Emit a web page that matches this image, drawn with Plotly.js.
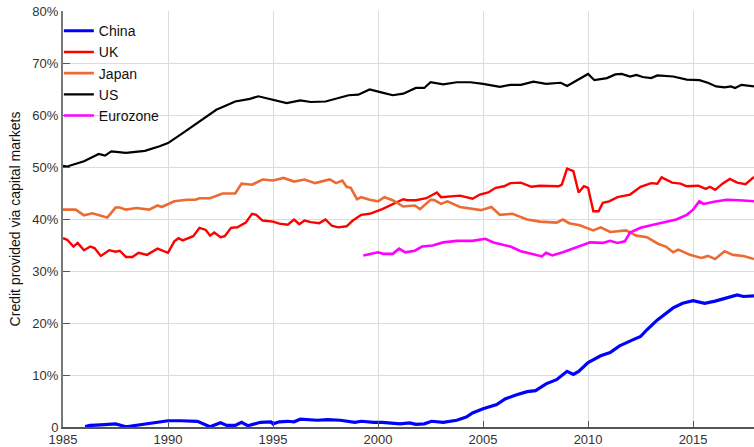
<!DOCTYPE html>
<html>
<head>
<meta charset="utf-8">
<script src="https://cdn.plot.ly/plotly-3.0.1.min.js"></script>
<style>html,body{margin:0;padding:0;background:#fff;}#chart{width:754px;height:447px;}</style>
</head>
<body>
<div id="chart"></div>
<script>
// Decimal years and values (%)
const chinaX = [1986.05,1986.3,1986.8,1987.5,1988.0,1988.7,1989.5,1990.0,1990.6,1991.4,1992.0,1992.5,1992.8,1993.2,1993.5,1993.8,1994.4,1994.9,1995.0,1995.3,1995.7,1996.0,1996.3,1997.1,1997.6,1998.2,1998.9,1999.2,1999.8,2000.2,2001.05,2001.5,2001.8,2002.2,2002.55,2003.1,2003.75,2004.2,2004.5,2005.0,2005.65,2006.05,2006.6,2007.1,2007.5,2008.0,2008.5,2009.0,2009.3,2009.55,2010.0,2010.6,2011.05,2011.5,2012.1,2012.5,2012.8,2013.3,2014.05,2014.5,2015.0,2015.55,2016.05,2016.6,2017.1,2017.4,2017.9];
const chinaY = [0.1,0.3,0.4,0.6,0.05,0.4,0.8,1.2,1.2,1.1,0.05,0.8,0.3,0.3,0.9,0.25,0.9,1.0,0.6,1.0,1.1,1.0,1.5,1.3,1.4,1.3,0.9,1.1,0.9,0.9,0.6,0.8,0.5,0.6,1.1,0.9,1.3,1.9,2.7,3.5,4.3,5.4,6.2,6.8,7.0,8.3,9.1,10.7,10.1,10.7,12.4,13.7,14.3,15.6,16.7,17.4,18.7,20.6,22.9,23.8,24.3,23.8,24.2,24.8,25.4,25.1,25.2];

const ukX = [1985.0,1985.2,1985.5,1985.7,1986.0,1986.3,1986.5,1986.8,1987.2,1987.5,1987.7,1988.0,1988.3,1988.6,1989.0,1989.5,1990.0,1990.3,1990.5,1990.7,1991.2,1991.5,1991.8,1992.0,1992.2,1992.5,1992.7,1993.0,1993.3,1993.7,1994.0,1994.2,1994.5,1995.0,1995.3,1995.7,1996.0,1996.25,1996.5,1996.8,1997.2,1997.5,1997.8,1998.1,1998.5,1998.8,1999.2,1999.6,2000.2,2000.7,2001.2,2001.4,2001.8,2002.3,2002.8,2003.0,2003.5,2003.9,2004.5,2004.85,2005.25,2005.6,2006.0,2006.3,2006.8,2007.3,2007.7,2008.1,2008.6,2008.75,2009.0,2009.3,2009.55,2009.8,2010.0,2010.25,2010.5,2010.7,2011.0,2011.4,2012.0,2012.5,2013.0,2013.3,2013.5,2014.0,2014.4,2014.7,2015.25,2015.6,2015.8,2016.05,2016.4,2016.75,2017.1,2017.5,2017.9];
const ukY = [36.3,36.0,34.7,35.4,34.0,34.7,34.4,32.9,34.0,33.7,33.9,32.7,32.7,33.5,33.1,34.3,33.5,35.7,36.3,35.9,36.7,38.3,37.9,36.8,37.4,36.5,36.7,38.3,38.4,39.3,41.0,40.8,39.7,39.5,39.1,38.9,39.9,39.0,39.7,39.4,39.2,39.9,38.7,38.4,38.6,39.7,40.8,41.0,41.9,42.9,43.8,43.6,43.6,44.0,45.1,44.2,44.3,44.5,43.9,44.7,45.1,46.0,46.3,46.9,47.0,46.2,46.4,46.3,46.3,46.6,49.7,49.2,45.1,46.3,46.0,41.5,41.5,43.1,43.4,44.2,44.7,46.2,46.9,46.8,48.0,47.0,46.8,46.3,46.4,45.8,46.2,45.6,46.8,47.7,47.0,46.7,48.1];

const japanX = [1985.0,1985.25,1985.6,1986.0,1986.4,1987.1,1987.2,1987.5,1987.7,1988.0,1988.5,1989.1,1989.5,1989.7,1990.3,1990.9,1991.3,1991.5,1992.0,1992.6,1993.2,1993.5,1994.0,1994.5,1995.0,1995.5,1996.0,1996.5,1997.0,1997.7,1998.0,1998.3,1998.5,1998.7,1999.0,1999.2,1999.6,2000.0,2000.3,2000.7,2001.2,2001.75,2002.0,2002.5,2002.7,2003.0,2003.3,2003.9,2004.9,2005.4,2005.8,2006.4,2007.1,2007.7,2008.5,2008.8,2009.1,2009.6,2010.25,2010.6,2011.05,2011.8,2012.3,2012.8,2013.35,2013.7,2014.05,2014.3,2014.85,2015.4,2015.7,2016.05,2016.5,2016.9,2017.4,2017.9];
const japanY = [41.8,41.8,41.8,40.7,41.1,40.3,40.7,42.2,42.2,41.8,42.1,41.8,42.6,42.3,43.4,43.7,43.7,44.0,44.0,44.9,44.9,46.8,46.6,47.6,47.4,47.9,47.2,47.6,46.9,47.6,46.9,47.4,46.2,46.0,43.8,44.2,43.7,43.4,44.2,43.6,42.4,42.6,41.9,43.7,43.6,42.9,43.4,42.3,41.7,42.3,40.8,41.0,39.9,39.5,39.3,39.9,39.2,38.8,37.8,38.4,37.5,37.8,36.8,36.5,35.2,34.7,33.6,34.1,33.1,32.5,32.9,32.3,33.8,33.1,32.9,32.3];

const usX = [1985.0,1985.2,1986.0,1986.7,1987.0,1987.3,1988.0,1988.9,1989.6,1990.0,1990.7,1991.5,1992.3,1993.2,1993.9,1994.3,1994.9,1995.65,1996.3,1996.8,1997.5,1997.95,1998.6,1999.06,1999.6,2000.2,2000.7,2001.2,2001.8,2002.2,2002.5,2003.1,2003.75,2004.4,2005.0,2005.8,2006.3,2006.8,2007.4,2008.0,2008.7,2009.0,2009.5,2010.0,2010.3,2010.9,2011.3,2011.6,2012.0,2012.3,2012.6,2013.0,2013.3,2014.05,2014.7,2015.3,2015.7,2016.1,2016.5,2016.8,2017.0,2017.3,2017.9];
const usY = [50.2,50.1,51.1,52.5,52.2,53.0,52.7,53.1,54.0,54.6,56.5,58.8,61.0,62.6,63.1,63.6,63.0,62.3,62.8,62.5,62.6,63.1,63.8,63.9,64.9,64.3,63.8,64.1,65.2,65.2,66.3,65.9,66.3,66.3,66.0,65.4,65.8,65.8,66.4,66.0,66.2,65.6,66.8,67.9,66.7,67.1,67.8,67.9,67.4,67.7,67.3,67.1,67.6,67.4,66.8,66.7,66.2,65.5,65.3,65.5,65.2,65.8,65.5];

const euroX = [1999.3,2000.0,2000.25,2000.7,2001.0,2001.3,2001.75,2002.1,2002.6,2003.1,2003.75,2004.5,2005.1,2005.5,2006.3,2006.8,2007.3,2007.8,2008.0,2008.3,2008.8,2009.6,2010.1,2010.7,2011.05,2011.4,2011.75,2012.0,2012.5,2013.1,2013.7,2014.2,2014.7,2015.0,2015.3,2015.5,2016.0,2016.6,2017.2,2017.9];
const euroY = [33.0,33.6,33.3,33.3,34.3,33.6,33.9,34.7,34.9,35.5,35.8,35.8,36.2,35.5,34.7,33.8,33.3,32.8,33.5,33.0,33.6,34.7,35.5,35.4,35.8,35.4,35.7,37.4,38.3,38.9,39.5,39.9,40.8,41.8,43.4,42.9,43.3,43.7,43.6,43.4];

const yTickVals = [0,10,20,30,40,50,60,70,80];
const yTickText = ['0','10%','20%','30%','40%','50%','60%','70%','80%'];
const xTickVals = [1985,1990,1995,2000,2005,2010,2015];

const traces = [
  {name:'China', x:chinaX, y:chinaY, color:'#0000ff', w:3.2},
  {name:'UK', x:ukX, y:ukY, color:'#ff0000', w:2.4},
  {name:'Japan', x:japanX, y:japanY, color:'#ec6b32', w:2.6},
  {name:'US', x:usX, y:usY, color:'#000000', w:2.2},
  {name:'Eurozone', x:euroX, y:euroY, color:'#ff00ff', w:2.6}
].map(s => ({type:'scatter', mode:'lines', name:s.name, x:s.x, y:s.y,
  line:{color:s.color, width:s.w}, hoverinfo:'skip'}));

const layout = {
  width:754, height:447,
  margin:{l:63, r:0, t:11, b:20, pad:0},
  paper_bgcolor:'#ffffff', plot_bgcolor:'#ffffff',
  font:{family:'Liberation Sans, Arial, sans-serif', size:13, color:'#222'},
  showlegend:true,
  legend:{x:-0.006, y:0.99, xanchor:'left', yanchor:'top', bgcolor:'rgba(0,0,0,0)',
    font:{size:14, color:'#111'}, tracegroupgap:0, itemwidth:30},
  xaxis:{range:[1985,2017.9], tickvals:xTickVals, ticktext:xTickVals.map(String),
    showgrid:true, gridcolor:'#dcdcdc', gridwidth:1, zeroline:false,
    showline:true, linecolor:'#555', linewidth:1.5, ticks:'inside', ticklen:6,
    tickcolor:'#555', tickfont:{size:13, color:'#333'}, fixedrange:true},
  yaxis:{range:[0,80], tickvals:yTickVals, ticktext:yTickText,
    showgrid:true, gridcolor:'#dcdcdc', gridwidth:1, zeroline:false,
    showline:true, linecolor:'#777', linewidth:2, ticks:'inside', ticklen:7,
    tickcolor:'#555', tickfont:{size:13, color:'#333'},
    title:{text:'Credit provided via capital markets', font:{size:14, color:'#111'}, standoff:8},
    fixedrange:true}
};

Plotly.newPlot('chart', traces, layout, {staticPlot:true, displayModeBar:false});
</script>
</body>
</html>
